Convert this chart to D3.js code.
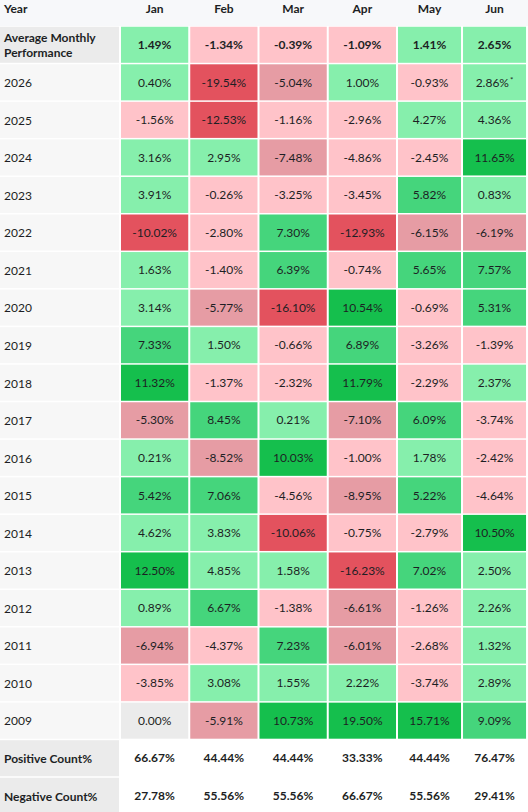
<!DOCTYPE html>
<html>
<head>
<meta charset="utf-8">
<script src="https://cdn.jsdelivr.net/npm/d3@7"></script>
<style>
  html, body { margin: 0; padding: 0; background: #ffffff; overflow: hidden; }
  svg { display: block; font-family: Lato, "Open Sans", sans-serif; }
</style>
</head>
<body>
<svg id="chart" width="528" height="812"></svg>
<script>
// ---------------- data ----------------
const months = ["Jan", "Feb", "Mar", "Apr", "May", "Jun", "Jul"];
const years = [2026, 2025, 2024, 2023, 2022, 2021, 2020, 2019, 2018, 2017, 2016, 2015, 2014, 2013, 2012, 2011, 2010, 2009];

// monthly returns (%) listed in the same order as `years`
const janReturns = [0.40, -1.56, 3.16, 3.91, -10.02, 1.63, 3.14, 7.33, 11.32, -5.30, 0.21, 5.42, 4.62, 12.50, 0.89, -6.94, -3.85, 0.00];
const febReturns = [-19.54, -12.53, 2.95, -0.26, -2.80, -1.40, -5.77, 1.50, -1.37, 8.45, -8.52, 7.06, 3.83, 4.85, 6.67, -4.37, 3.08, -5.91];
const marReturns = [-5.04, -1.16, -7.48, -3.25, 7.30, 6.39, -16.10, -0.66, -2.32, 0.21, 10.03, -4.56, -10.06, 1.58, -1.38, 7.23, 1.55, 10.73];
const aprReturns = [1.00, -2.96, -4.86, -3.45, -12.93, -0.74, 10.54, 6.89, 11.79, -7.10, -1.00, -8.95, -0.75, -16.23, -6.61, -6.01, 2.22, 19.50];
const mayReturns = [-0.93, 4.27, -2.45, 5.82, -6.15, 5.65, -0.69, -3.26, -2.29, 6.09, 1.78, 5.22, -2.79, 7.02, -1.26, -2.68, -3.74, 15.71];
const junReturns = [2.86, 4.36, 11.65, 0.83, -6.19, 7.57, 5.31, -1.39, 2.37, -3.74, -2.42, -4.64, 10.50, 2.50, 2.26, 1.32, 2.89, 9.09];
// July is almost entirely cut off at the right edge; values estimated from the visible colour sliver
const julReturns = [null, -6.5, 11.0, 3.0, 2.5, 3.0, 12.0, -2.0, 2.5, 7.0, -3.0, 6.0, 2.0, 11.0, -7.0, -2.5, 3.0, 12.0];

const avgMonthly = [1.49, -1.34, -0.39, -1.09, 1.41, 2.65, 3.18];
const positiveCount = ["66.67%", "44.44%", "44.44%", "33.33%", "44.44%", "76.47%", "70.59%"];
const negativeCount = ["27.78%", "55.56%", "55.56%", "66.67%", "55.56%", "29.41%", "29.41%"];

// partial-month marker (asterisk)
const partialCells = [{ year: 2026, month: "Jun" }];

const monthlyReturns = [janReturns, febReturns, marReturns, aprReturns, mayReturns, junReturns, julReturns];

// ---------------- layout ----------------
const W = 528, H = 812;
const headerH = 26;
const rowStep = 37.55;
const yearColW = 120;
const fontSize = 12;
const textColor = "#1d1f24";

const svg = d3.select("#chart");

// measure text to emulate auto table column widths
const ctx = document.createElement("canvas").getContext("2d");
function textW(s, weight) {
  ctx.font = `${weight || "normal"} ${fontSize}px Lato`;
  return ctx.measureText(s).width;
}
const fmt = v => v.toFixed(2) + "%";
const colPad = 24.5;
const colWidths = months.map((m, i) => {
  const texts = monthlyReturns[i].filter(v => v != null).map(fmt);
  const wMax = Math.max(
    d3.max(texts, t => textW(t)),
    textW(fmt(avgMonthly[i]), "bold"),
    textW(positiveCount[i], "bold"),
    textW(negativeCount[i], "bold")
  );
  return wMax + colPad;
});
const colStarts = [yearColW, ...Array.from(d3.cumsum(colWidths), c => yearColW + c)];
const x = d3.scaleOrdinal().domain(months).range(colStarts.slice(0, months.length));
const colW = d3.scaleOrdinal().domain(months).range(colWidths);
// only columns whose text would fit inside the viewport get labels (the rest is clipped like the original)
const textVisible = m => x(m) + colW(m) <= W + 4;

const rowKeys = ["avg", ...years.map(String), "pos", "neg"];
const y = d3.scaleBand().domain(rowKeys).range([headerH, headerH + rowKeys.length * rowStep]).paddingInner(0);

const color = d3.scaleThreshold()
  .domain([-10, -5, 0, 5, 10])
  .range(["#e3525e", "#e69ca4", "#ffc3c9", "#86efac", "#45d57c", "#15bf4d"]);
const cellFill = v => v == null ? "#ffffff" : (v === 0 ? "#ebebeb" : color(v));

// ---------------- header ----------------
svg.append("rect").attr("x", 0).attr("y", 0).attr("width", W).attr("height", headerH).attr("fill", "#f7f8fa");
svg.append("text").attr("x", 4).attr("y", 13).attr("font-size", fontSize).attr("font-weight", "bold")
  .attr("fill", textColor).text("Year");
svg.append("g").selectAll("text").data(months.filter(textVisible)).join("text")
  .attr("x", d => x(d) + colW(d) / 2)
  .attr("y", 13)
  .attr("text-anchor", "middle")
  .attr("font-size", fontSize)
  .attr("font-weight", "bold")
  .attr("fill", textColor)
  .text(d => d);

// ---------------- label column ----------------
const labelRows = rowKeys.map(k => ({
  key: k,
  lines: k === "avg" ? ["Average Monthly", "Performance"] : k === "pos" ? ["Positive Count%"] : k === "neg" ? ["Negative Count%"] : [k],
  bold: k === "avg" || k === "pos" || k === "neg",
  fill: (k === "avg" || k === "pos" || k === "neg") ? "#ebebeb" : "#f7f7f7"
}));

const lab = svg.append("g").selectAll("g").data(labelRows).join("g");
lab.append("rect")
  .attr("x", 0)
  .attr("y", d => y(d.key) + 0.75)
  .attr("width", yearColW - 1)
  .attr("height", y.bandwidth() - 1.5)
  .attr("fill", d => d.fill);
lab.selectAll("text").data(d => d.lines.map((l, i) => ({ l, i, n: d.lines.length, key: d.key, bold: d.bold }))).join("text")
  .attr("font-size", fontSize)
  .attr("font-weight", t => t.bold ? "bold" : "normal")
  .attr("fill", textColor)
  .attr("x", 4)
  .attr("y", t => y(t.key) + y.bandwidth() / 2 + 0.6 + (t.i - (t.n - 1) / 2) * 14.4)
  .attr("dy", "0.35em")
  .text(t => t.l);

// ---------------- value cells ----------------
const cells = [];
months.forEach((m, mi) => {
  cells.push({ row: "avg", month: m, v: avgMonthly[mi], bold: true });
  years.forEach((yr, yi) => {
    cells.push({ row: String(yr), month: m, v: monthlyReturns[mi][yi], bold: false,
      partial: partialCells.some(p => p.year === yr && p.month === m) });
  });
});

const cg = svg.append("g").selectAll("g").data(cells).join("g");
cg.append("rect")
  .attr("x", d => x(d.month) + 1)
  .attr("y", d => y(d.row) + 0.75)
  .attr("width", d => colW(d.month) - 2)
  .attr("height", y.bandwidth() - 1.5)
  .attr("fill", d => cellFill(d.v));
const ct = cg.filter(d => d.v != null && textVisible(d.month)).append("text")
  .attr("x", d => x(d.month) + colW(d.month) / 2)
  .attr("y", d => y(d.row) + y.bandwidth() / 2)
  .attr("dy", "0.35em")
  .attr("text-anchor", "middle")
  .attr("font-size", fontSize)
  .attr("font-weight", d => d.bold ? "bold" : "normal")
  .attr("fill", textColor);
ct.append("tspan").text(d => fmt(d.v));
ct.filter(d => d.partial).append("tspan")
  .attr("font-size", 8)
  .attr("dy", "-0.45em")
  .attr("dx", 1)
  .text("*");

// ---------------- count rows ----------------
const counts = [];
months.filter(textVisible).forEach(m => {
  const mi = months.indexOf(m);
  counts.push({ row: "pos", month: m, t: positiveCount[mi] });
  counts.push({ row: "neg", month: m, t: negativeCount[mi] });
});
svg.append("g").selectAll("text").data(counts).join("text")
  .attr("x", d => x(d.month) + colW(d.month) / 2)
  .attr("y", d => y(d.row) + y.bandwidth() / 2)
  .attr("dy", "0.35em")
  .attr("text-anchor", "middle")
  .attr("font-size", fontSize)
  .attr("font-weight", "bold")
  .attr("fill", textColor)
  .text(d => d.t);
</script>
</body>
</html>
